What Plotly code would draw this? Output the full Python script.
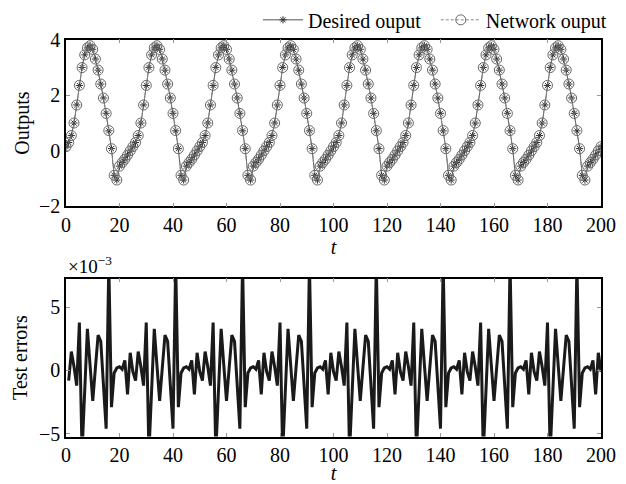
import plotly.graph_objects as go
from plotly.subplots import make_subplots

# time samples
t_out = list(range(0, 201))
t_err = list(range(1, 201))

# desired output (t = 0..200)
desired_output = [
    0.15, 0.30, 0.55, 1.00, 1.65, 2.35, 3.00, 3.45, 3.70, 3.78, 3.65, 3.30, 2.90, 2.40, 1.90, 1.35, 0.72, 0.08, -0.88, -1.05, -0.55, -0.42, -0.30, -0.15, 0.00,
    0.15, 0.30, 0.55, 1.00, 1.65, 2.35, 3.00, 3.45, 3.70, 3.78, 3.65, 3.30, 2.90, 2.40, 1.90, 1.35, 0.72, 0.08, -0.88, -1.05, -0.55, -0.42, -0.30, -0.15, 0.00,
    0.15, 0.30, 0.55, 1.00, 1.65, 2.35, 3.00, 3.45, 3.70, 3.78, 3.65, 3.30, 2.90, 2.40, 1.90, 1.35, 0.72, 0.08, -0.88, -1.05, -0.55, -0.42, -0.30, -0.15, 0.00,
    0.15, 0.30, 0.55, 1.00, 1.65, 2.35, 3.00, 3.45, 3.70, 3.78, 3.65, 3.30, 2.90, 2.40, 1.90, 1.35, 0.72, 0.08, -0.88, -1.05, -0.55, -0.42, -0.30, -0.15, 0.00,
    0.15, 0.30, 0.55, 1.00, 1.65, 2.35, 3.00, 3.45, 3.70, 3.78, 3.65, 3.30, 2.90, 2.40, 1.90, 1.35, 0.72, 0.08, -0.88, -1.05, -0.55, -0.42, -0.30, -0.15, 0.00,
    0.15, 0.30, 0.55, 1.00, 1.65, 2.35, 3.00, 3.45, 3.70, 3.78, 3.65, 3.30, 2.90, 2.40, 1.90, 1.35, 0.72, 0.08, -0.88, -1.05, -0.55, -0.42, -0.30, -0.15, 0.00,
    0.15, 0.30, 0.55, 1.00, 1.65, 2.35, 3.00, 3.45, 3.70, 3.78, 3.65, 3.30, 2.90, 2.40, 1.90, 1.35, 0.72, 0.08, -0.88, -1.05, -0.55, -0.42, -0.30, -0.15, 0.00,
    0.15, 0.30, 0.55, 1.00, 1.65, 2.35, 3.00, 3.45, 3.70, 3.78, 3.65, 3.30, 2.90, 2.40, 1.90, 1.35, 0.72, 0.08, -0.88, -1.05, -0.55, -0.42, -0.30, -0.15, 0.00,
    0.15,
]

# test errors (x 1e-3) (t = 1..200)
test_errors = [
    -0.8, 1.5, 0.3, -1.2, 3.8, -6.5, -1.6, 3.3, 0.4, -2.4, 0.2, 2.8, 2.3, -1.2, -4.6, 8.5, -2.9, -0.2, 0.2, 0.3, 0.1, 0.8, -1.9, 1.4, -0.1,
    -0.8, 1.5, 0.3, -1.2, 3.8, -6.5, -1.6, 3.3, 0.4, -2.4, 0.2, 2.8, 2.3, -1.2, -4.6, 8.5, -2.9, -0.2, 0.2, 0.3, 0.1, 0.8, -1.9, 1.4, -0.1,
    -0.8, 1.5, 0.3, -1.2, 3.8, -6.5, -1.6, 3.3, 0.4, -2.4, 0.2, 2.8, 2.3, -1.2, -4.6, 8.5, -2.9, -0.2, 0.2, 0.3, 0.1, 0.8, -1.9, 1.4, -0.1,
    -0.8, 1.5, 0.3, -1.2, 3.8, -6.5, -1.6, 3.3, 0.4, -2.4, 0.2, 2.8, 2.3, -1.2, -4.6, 8.5, -2.9, -0.2, 0.2, 0.3, 0.1, 0.8, -1.9, 1.4, -0.1,
    -0.8, 1.5, 0.3, -1.2, 3.8, -6.5, -1.6, 3.3, 0.4, -2.4, 0.2, 2.8, 2.3, -1.2, -4.6, 8.5, -2.9, -0.2, 0.2, 0.3, 0.1, 0.8, -1.9, 1.4, -0.1,
    -0.8, 1.5, 0.3, -1.2, 3.8, -6.5, -1.6, 3.3, 0.4, -2.4, 0.2, 2.8, 2.3, -1.2, -4.6, 8.5, -2.9, -0.2, 0.2, 0.3, 0.1, 0.8, -1.9, 1.4, -0.1,
    -0.8, 1.5, 0.3, -1.2, 3.8, -6.5, -1.6, 3.3, 0.4, -2.4, 0.2, 2.8, 2.3, -1.2, -4.6, 8.5, -2.9, -0.2, 0.2, 0.3, 0.1, 0.8, -1.9, 1.4, -0.1,
    -0.8, 1.5, 0.3, -1.2, 3.8, -6.5, -1.6, 3.3, 0.4, -2.4, 0.2, 2.8, 2.3, -1.2, -4.6, 8.5, -2.9, -0.2, 0.2, 0.3, 0.1, 0.8, -1.9, 1.4, -0.1,
]

# network output = desired output + error (error assumed 0 at t = 0)
err_full = [0.0] + test_errors
network_output = [d + 1e-3 * e for d, e in zip(desired_output, err_full)]

x_ticks = [0, 20, 40, 60, 80, 100, 120, 140, 160, 180, 200]
y_ticks_top = [-2, 0, 2, 4]
y_ticks_bottom = [-5, 0, 5]

FONT = "Liberation Serif, Times New Roman, serif"
W, H = 626, 484


def px_x(p):
    return p / W


def px_y(p):
    return 1 - p / H


fig = make_subplots(rows=2, cols=1, vertical_spacing=0.0)

fig.add_trace(go.Scatter(
    x=t_out, y=desired_output, mode="lines+markers", name="Desired ouput  ",
    line=dict(color="#555555", width=1),
    marker=dict(symbol="asterisk-open", size=6, color="#333333",
                line=dict(width=1, color="#333333")),
), row=1, col=1)

fig.add_trace(go.Scatter(
    x=t_out, y=network_output, mode="lines+markers", name="Network ouput",
    line=dict(color="#888888", width=1, dash="3px,2px"),
    marker=dict(symbol="circle-open", size=10, color="#666666",
                line=dict(width=1, color="#666666")),
), row=1, col=1)

fig.add_trace(go.Scatter(
    x=t_err, y=test_errors, mode="lines", showlegend=False,
    line=dict(color="#1a1a1a", width=3),
), row=2, col=1)

axis_common = dict(
    showline=True, linecolor="black", linewidth=1.5, mirror="ticks",
    ticks="inside", ticklen=4, tickcolor="#999999", tickwidth=1,
    showgrid=False, zeroline=False, automargin=False,
    tickfont=dict(family=FONT, size=20, color="black"),
)

title_font = dict(family=FONT, size=20, color="black")

fig.update_xaxes(range=[0, 200], tickvals=x_ticks, domain=[px_x(66), px_x(601)], **axis_common)
fig.update_xaxes(title=dict(text="<i>t</i>", font=title_font, standoff=2), row=1, col=1)
fig.update_xaxes(title=dict(text="<i>t</i>", font=title_font, standoff=5), row=2, col=1)

fig.update_yaxes(range=[-2, 4], tickvals=y_ticks_top, row=1, col=1,
                 domain=[px_y(203), px_y(34)],
                 title=dict(text="Outputs", font=title_font, standoff=4),
                 **axis_common)
fig.update_yaxes(range=[-5.23, 7.27], tickvals=y_ticks_bottom, row=2, col=1,
                 domain=[px_y(436), px_y(276)],
                 title=dict(text="Test errors", font=title_font, standoff=6),
                 **axis_common)

fig.update_layout(
    width=W, height=H,
    margin=dict(l=0, r=0, t=0, b=0),
    paper_bgcolor="white", plot_bgcolor="white",
    font=dict(family=FONT, size=20, color="black"),
    legend=dict(orientation="h", x=px_x(612), xanchor="right", y=px_y(14),
                yanchor="middle", font=dict(family=FONT, size=20, color="black"),
                bgcolor="rgba(0,0,0,0)", itemwidth=40, tracegroupgap=0),
    annotations=[dict(text="×10<sup>−3</sup>", x=px_x(66), xref="paper", xanchor="left",
                      y=px_y(262), yref="paper", yanchor="middle",
                      showarrow=False, font=dict(family=FONT, size=19, color="black"))],
)

fig.write_html("out.html", config={"displayModeBar": False},
               post_script="document.body.style.margin='0px';")
